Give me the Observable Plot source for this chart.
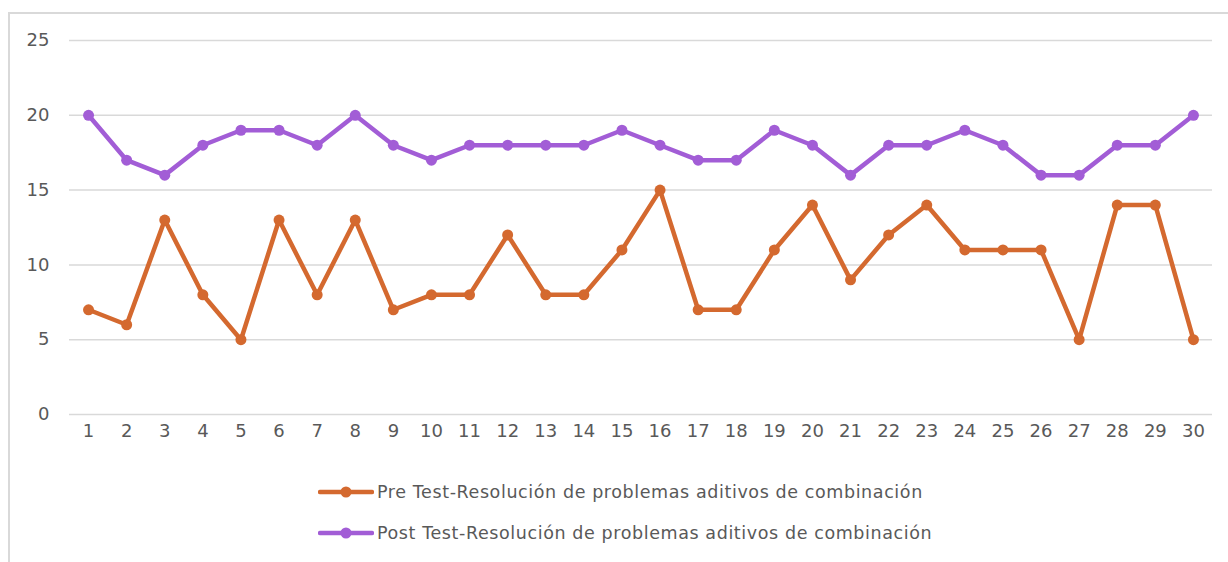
<!DOCTYPE html>
<html>
<head>
<meta charset="utf-8">
<script src="https://cdn.jsdelivr.net/npm/d3@7"></script>
<script src="https://cdn.jsdelivr.net/npm/@observablehq/plot@0.6"></script>
<style>
  html, body { margin: 0; padding: 0; background: #fff; }
  body { width: 1228px; height: 562px; overflow: hidden; position: relative; font-family: "DejaVu Sans", sans-serif; }
  #frame { position: absolute; left: 8px; top: 12px; width: 1240px; height: 600px; border-left: 2px solid #d9d9d9; border-top: 2px solid #d9d9d9; }
  #chart { position: absolute; left: 0; top: 0; }
  #legend { position: absolute; left: 318px; top: 478px; color: #595959; font-size: 17.5px; letter-spacing: 0.6px; }
  .item { display: flex; align-items: center; height: 28px; margin-bottom: 13px; white-space: nowrap; }
  .item svg { margin-right: 3px; }
</style>
</head>
<body>
<div id="frame"></div>
<div id="chart"></div>
<div id="legend"></div>
<script>
const students = d3.range(1, 31);
const preTest = [7,6,13,8,5,13,8,13,7,8,8,12,8,8,11,15,7,7,11,14,9,12,14,11,11,11,5,14,14,5];
const postTest = [20,17,16,18,19,19,18,20,18,17,18,18,18,18,19,18,17,17,19,18,16,18,18,19,18,16,16,18,18,20];
const seriesNames = [
  "Pre Test-Resolución de problemas aditivos de combinación",
  "Post Test-Resolución de problemas aditivos de combinación"
];
const colors = ["#D4692F", "#A25DD6"];
const yTicks = [0, 5, 10, 15, 20, 25];

const data = [];
students.forEach((s, i) => {
  data.push({student: s, value: preTest[i], series: seriesNames[0]});
  data.push({student: s, value: postTest[i], series: seriesNames[1]});
});

const plot = Plot.plot({
  width: 1228,
  height: 454,
  marginLeft: 69,
  marginRight: 16,
  marginTop: 40,
  marginBottom: 40,
  style: {fontFamily: "'DejaVu Sans', sans-serif", fontSize: "18px", color: "#595959", background: "transparent"},
  x: {domain: [0.5, 30.5], axis: null},
  y: {domain: [0, 25], axis: null},
  color: {domain: seriesNames, range: colors},
  marks: [
    Plot.ruleY(yTicks, {stroke: "#d9d9d9", strokeWidth: 1.5}),
    Plot.axisY(yTicks, {tickSize: 0, tickPadding: 20, fontSize: 18, fill: "#595959", label: null}),
    Plot.axisX(students, {tickSize: 0, tickPadding: 10, fontSize: 18, fill: "#595959", label: null}),
    Plot.line(data, {x: "student", y: "value", z: "series", stroke: "series", strokeWidth: 4.5, strokeLinejoin: "round"}),
    Plot.dot(data, {x: "student", y: "value", fill: "series", r: 5.5})
  ]
});
document.getElementById("chart").appendChild(plot);

const legend = document.getElementById("legend");
seriesNames.forEach((name, i) => {
  const item = document.createElement("div");
  item.className = "item";
  item.innerHTML = `<svg width="56" height="12"><line x1="2" y1="6" x2="54" y2="6" stroke="${colors[i]}" stroke-width="4.5" stroke-linecap="round"/><circle cx="28" cy="6" r="5.5" fill="${colors[i]}"/></svg><span>${name}</span>`;
  legend.appendChild(item);
});
</script>
</body>
</html>
